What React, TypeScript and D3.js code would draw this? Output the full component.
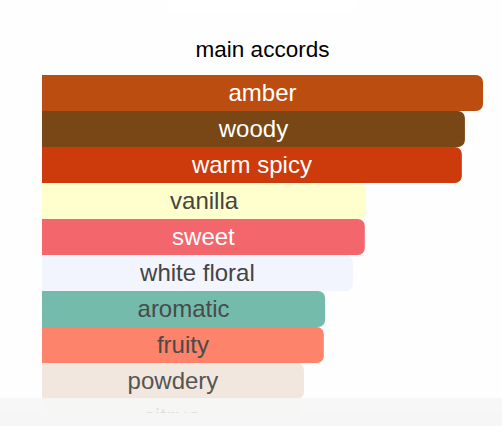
import React from "react";
import * as d3 from "d3";

const width = 502;
const height = 426;

// accord names, strength (percent of the strongest) and colours
const accords = ["amber", "woody", "warm spicy", "vanilla", "sweet", "white floral", "aromatic", "fruity", "powdery", "citrus"];
const strengths = [100, 95.9, 95.2, 73.5, 73.2, 70.5, 64.2, 63.9, 59.4, 58.7];
const colors = ["#bc4d10", "#794716", "#cd3a0b", "#ffffce", "#f3666c", "#f2f5fd", "#74bbac", "#fd836b", "#f2e7de", "#f8faea"];
const textColors = ["#fff", "#fff", "#fff", "#444", "#fff", "#444", "#4a4a4a", "#4a4a4a", "#555", "#666"];

const left = 42;
const barTop = 75;
const barHeight = 36;

// rect with only the right corners rounded
function barPath(x0: number, y0: number, x1: number, y1: number, r: number) {
  const p = d3.path();
  p.moveTo(x0, y0);
  p.lineTo(x1 - r, y0);
  p.arcTo(x1, y0, x1, y0 + r, r);
  p.lineTo(x1, y1 - r);
  p.arcTo(x1, y1, x1 - r, y1, r);
  p.lineTo(x0, y1);
  p.closePath();
  return p.toString();
}

export default function App() {
  const x = d3.scaleLinear().domain([0, 100]).range([left, 483]);
  const y = d3
    .scaleBand()
    .domain(accords)
    .range([barTop, barTop + barHeight * accords.length])
    .padding(0);

  return (
    <svg
      width={width}
      height={height}
      style={{ position: "absolute", left: 0, top: 0, display: "block" }}
      fontFamily="'Liberation Sans', Arial, sans-serif"
    >
      <defs>
        <clipPath id="visible">
          <rect x={0} y={0} width={width} height={413} />
        </clipPath>
      </defs>
      <rect width={width} height={height} fill="#fefefe" />
      <rect x={167} y={-6} width={191} height={18} rx={5} fill="#ffffff" />
      <text x={262.5} y={57} textAnchor="middle" fontSize={22.5} fill="#000">
        main accords
      </text>
      <g clipPath="url(#visible)">
        {accords.map((name, i) => {
          const y0 = y(name) as number;
          const x1 = x(strengths[i]);
          return (
            <g key={name}>
              <path d={barPath(left, y0, x1, y0 + y.bandwidth(), 7)} fill={colors[i]} />
              <text
                x={(left + x1) / 2}
                y={y0 + y.bandwidth() / 2}
                dy="0.35em"
                textAnchor="middle"
                fontSize={24}
                fill={textColors[i]}
              >
                {name}
              </text>
            </g>
          );
        })}
      </g>
      <rect x={0} y={398} width={width} height={28} fill="#f6f6f6" fillOpacity={0.85} />
      <rect x={0} y={413} width={width} height={13} fill="#f6f6f6" />
    </svg>
  );
}
